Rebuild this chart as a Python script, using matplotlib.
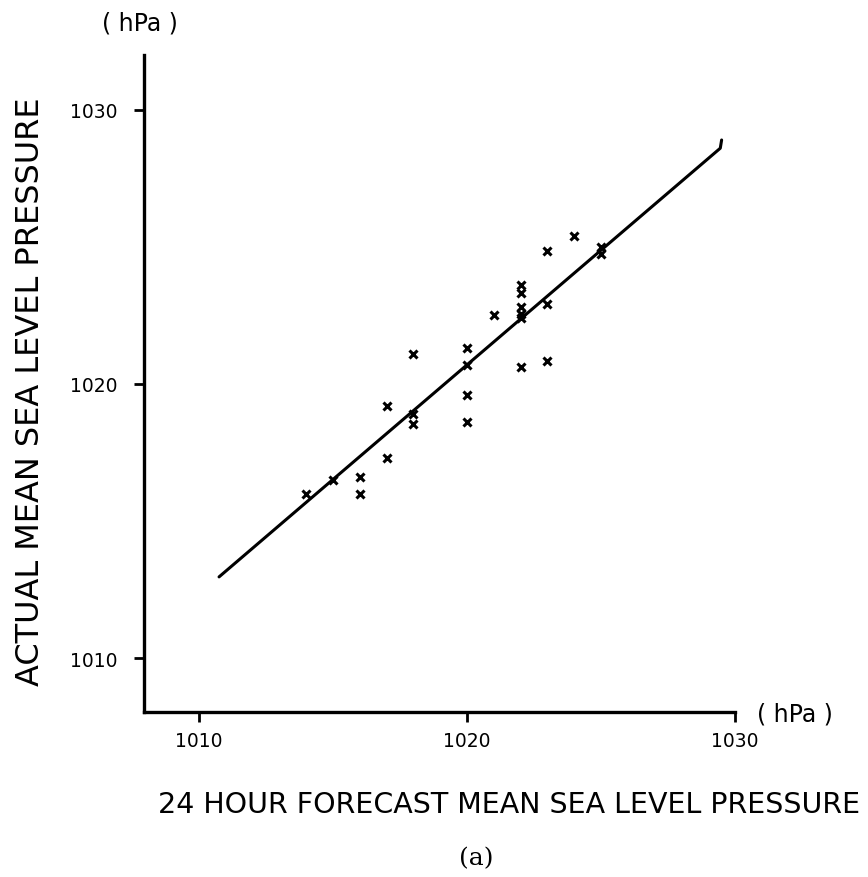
import matplotlib
matplotlib.use("Agg")
import matplotlib.pyplot as plt

# Data
forecast = [1014, 1015, 1016, 1016, 1017, 1017, 1018, 1018, 1018,
            1020, 1020, 1020, 1020, 1021,
            1022, 1022, 1022, 1022, 1022, 1022,
            1023, 1023, 1023, 1024, 1025, 1025]
actual = [1016.0, 1016.5, 1016.6, 1016.0, 1017.3, 1019.2, 1021.1, 1018.9, 1018.55,
          1021.3, 1020.7, 1019.6, 1018.6, 1022.5,
          1023.6, 1023.3, 1022.8, 1022.55, 1022.4, 1020.6,
          1024.85, 1022.9, 1020.85, 1025.4, 1025.0, 1024.75]
line_x = [1010.75, 1029.45, 1029.5]
line_y = [1012.96, 1028.6, 1028.9]
xticks = [1010, 1020, 1030]
yticks = [1010, 1020, 1030]

plt.rcParams['font.family'] = ['DejaVu Sans']

fig = plt.figure(figsize=(8.68, 8.78), dpi=100)
ax = fig.add_axes([0.1659, 0.1879, 0.8468 - 0.1659, 0.9362 - 0.1879])

ax.plot(line_x, line_y, color='black', lw=2.2, solid_capstyle='round')
ax.plot(forecast, actual, linestyle='none', marker='x', color='black',
        markersize=5.5, markeredgewidth=2.2)

ax.set_xlim(1007.95, 1030)
ax.set_ylim(1008.03, 1032.0)
ax.set_xticks(xticks)
ax.set_yticks(yticks)
ax.set_xticklabels([str(t) for t in xticks])
ax.set_yticklabels([str(t) for t in yticks])
for s in ['top', 'right']:
    ax.spines[s].set_visible(False)
for s in ['left', 'bottom']:
    ax.spines[s].set_linewidth(2.4)
ax.tick_params(axis='x', direction='out', length=7, width=2, labelsize=13.5, pad=7)
ax.tick_params(axis='y', direction='out', length=7, width=2, labelsize=13.5, pad=12)

fig.text(31 / 868, 1 - 392 / 878, 'ACTUAL MEAN SEA LEVEL PRESSURE', rotation=90,
         ha='center', va='center', fontsize=23)
fig.text(509 / 868, 1 - 805 / 878, '24 HOUR FORECAST MEAN SEA LEVEL PRESSURE',
         ha='center', va='center', fontsize=20.5)
fig.text(476 / 868, 1 - 859 / 878, '(a)', ha='center', va='center', fontsize=18,
         family='DejaVu Serif')
fig.text(140 / 868, 1 - 23 / 878, '( hPa )', ha='center', va='center', fontsize=17)
fig.text(795 / 868, 1 - 715 / 878, '( hPa )', ha='center', va='center', fontsize=17)

fig.savefig('out.png', dpi=100)
